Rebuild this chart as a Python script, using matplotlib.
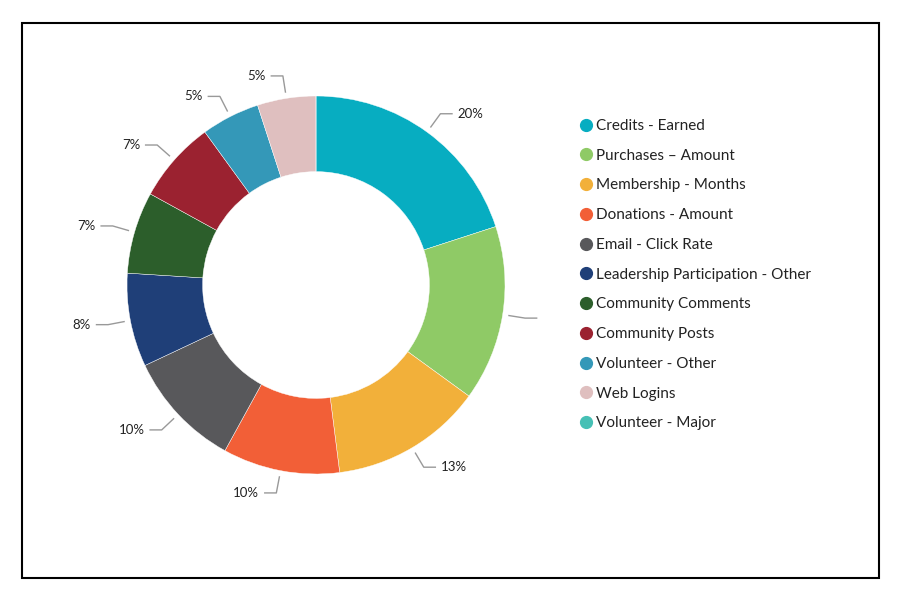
import numpy as np
import matplotlib
matplotlib.use("Agg")
import matplotlib.pyplot as plt
from matplotlib.lines import Line2D
from matplotlib.patches import Rectangle

categories = ["Credits - Earned", "Purchases \u2013 Amount", "Membership - Months",
              "Donations - Amount", "Email - Click Rate", "Leadership Participation - Other",
              "Community Comments", "Community Posts", "Volunteer - Other", "Web Logins",
              "Volunteer - Major"]
values = [20, 15, 13, 10, 10, 8, 7, 7, 5, 5, 0]
shown_labels = ["20%", "", "13%", "10%", "10%", "8%", "7%", "7%", "5%", "5%", ""]
colors = ["#07adc1", "#8fca66", "#f2b03a", "#f25f37", "#58585b", "#1f3f78",
          "#2c5e2b", "#9b2230", "#3498b8", "#dfbfbf", "#46c0b5"]

plt.rcParams['font.family'] = ['Lato', 'DejaVu Sans']
fig = plt.figure(figsize=(9, 6), dpi=100)

# frame
fig.patches.append(Rectangle((22/900, 22/600), (879-22)/900, (578-23)/600,
                             transform=fig.transFigure, fill=False,
                             edgecolor='black', linewidth=1.5))

R = 189.0
cx, cy = 316, 600 - 285
ax = fig.add_axes([(cx-300)/900, (cy-300)/600, 600/900, 600/600])
lim = 300 / R

ax.pie(values, colors=colors, startangle=90, counterclock=False, radius=1.0,
       wedgeprops=dict(width=0.40, edgecolor='white', linewidth=0.3))
ax.set_xlim(-lim, lim)
ax.set_ylim(-lim, lim)
ax.set_aspect('equal')
ax.axis('off')

total = float(sum(values))
cum = 0.0
for v, lab in zip(values, shown_labels):
    if v <= 0:
        continue
    mid = (cum + v / 2) / total * 360.0
    cum += v
    th = np.deg2rad(mid)
    x, y = np.sin(th), np.cos(th)
    s = 1 if x >= 0 else -1
    p1 = (1.03 * x, 1.03 * y)
    p2 = (1.12 * x, 1.12 * y)
    p3 = (p2[0] + s * 0.065, p2[1])
    ax.plot([p1[0], p2[0], p3[0]], [p1[1], p2[1], p3[1]], color='#999999', lw=1.0,
            solid_capstyle='butt')
    if lab:
        ax.text(p3[0] + s * 0.025, p3[1], lab, ha='left' if s > 0 else 'right',
                va='center', fontsize=9.5, color='#222222')

handles = [Line2D([], [], marker='o', linestyle='none', markersize=8.5,
                  markerfacecolor=c, markeredgecolor=c) for c in colors]
fig.legend(handles, categories, loc='upper left', bbox_to_anchor=(581/900, 1 - 119/600),
           frameon=False, fontsize=11, handlelength=0.6, handletextpad=0.35,
           labelspacing=1.03, borderpad=0, borderaxespad=0, labelcolor='#222222')

fig.savefig("out.png", dpi=100)
